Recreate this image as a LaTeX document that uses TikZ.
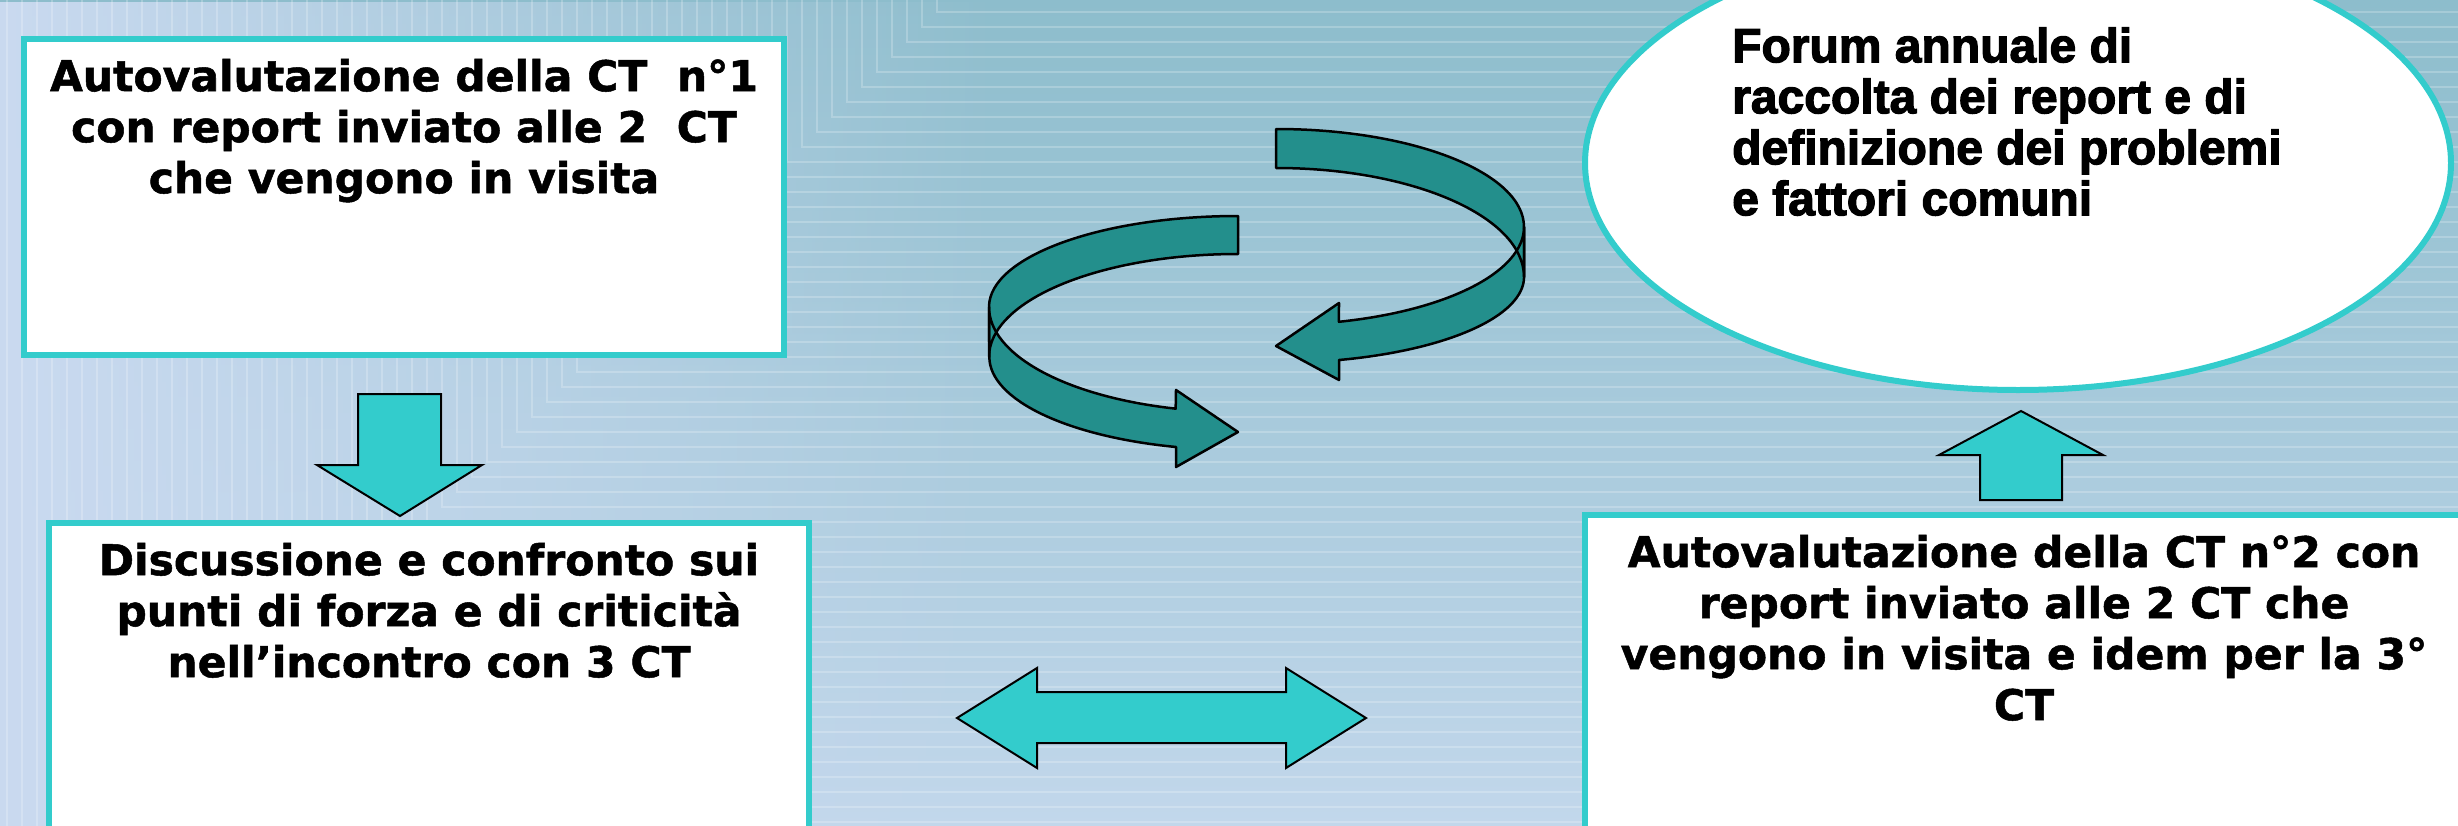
\documentclass[tikz,border=0pt]{standalone}
\usepackage{fontspec}
\usetikzlibrary{shapes.geometric,fadings}
\newfontfamily\boxfont{DejaVu Sans}[BoldFeatures={FakeBold=1.2}]
\newfontfamily\forumfont{Liberation Sans}[BoldFeatures={FakeBold=2.5}]
\definecolor{cyanb}{HTML}{33CCCC}
\definecolor{ribbon}{HTML}{238F8C}
\definecolor{bgtop}{HTML}{8DBDCC}
\definecolor{bgbot}{HTML}{C2D7EB}
\definecolor{bgleft}{HTML}{CADAF0}
\tikzfading[name=fadeR, left color=transparent!0, right color=transparent!100]
\newcommand\firstln{\rule{0pt}{40pt}}
\begin{document}
\begin{tikzpicture}[x=1pt,y=-1pt,
  card/.style={draw=cyanb, line width=6pt, fill=white, rectangle, inner sep=0pt},
  boxtext/.style={anchor=north, inner sep=0pt, align=center, font=\boxfont\bfseries\fontsize{42.5}{51}\selectfont},
  blockarrow/.style={fill=cyanb, draw=black, line width=2pt, line join=miter},
  ribbonarrow/.style={fill=ribbon, draw=black, line width=2.5pt, line join=round},
  bgline/.style={draw=white, draw opacity=0.22, line width=1.5pt}]
\useasboundingbox (0,0) rectangle (2458,825);
\clip (0,0) rectangle (2458,825);
% background
\shade[top color=bgtop, bottom color=bgbot] (0,0) rectangle (2458,825);
\fill[bgleft, path fading=fadeR] (0,0) rectangle (1000,825);
\foreach \k in {0,...,63}{
  \pgfmathsetmacro\xk{7+15*\k}
  \pgfmathsetmacro\yk{942-15*\k}
  \draw[bgline] (\xk,0) -- (\xk,\yk) -- (2458,\yk);
}
% boxes
\node[card, minimum width=760pt, minimum height=316pt] (b1) at (404,197) {};
\node[boxtext] (t1) at (404,51) {\firstln Autovalutazione della CT~~n°1\\con report inviato alle 2~~CT\\che vengono in visita};
\node[card, minimum width=760pt, minimum height=377pt] (b2) at (429,711.5) {};
\node[boxtext] (t2) at (429,535) {\firstln Discussione e confronto sui\\punti di forza e di criticità\\nell’incontro con 3 CT};
\node[card, minimum width=879pt, minimum height=385pt] (b3) at (2024.5,707.5) {};
\node[boxtext] (t3) at (2024,527) {\firstln Autovalutazione della CT n°2 con\\report inviato alle 2 CT che\\vengono in visita e idem per la 3°\\CT};
\node[draw=cyanb, line width=6pt, fill=white, ellipse, minimum width=866pt, minimum height=454pt, inner sep=0pt] (forum) at (2018,163) {};
\node[anchor=north west, inner sep=0pt, align=left, font=\forumfont\bfseries\fontsize{48}{51}\selectfont] (ft) at (1732,22) {\firstln Forum annuale di\\raccolta dei report e di\\definizione dei problemi\\e fattori comuni};
% block arrows
\draw[blockarrow] (358,394) -- (441,394) -- (441,465) -- (482,465) -- (400,516) -- (317,465) -- (358,465) -- cycle;
\draw[blockarrow] (1980,500) -- (2062,500) -- (2062,455) -- (2103,455) -- (2021,411) -- (1939,455) -- (1980,455) -- cycle;
\draw[blockarrow] (957,718) -- (1037,668) -- (1037,692) -- (1286,692) -- (1286,668) -- (1366,718) -- (1286,768) -- (1286,743) -- (1037,743) -- (1037,768) -- cycle;
% ribbon arrow A (upper right)
\fill[ribbon] (1276,129) arc[start angle=90,end angle=0,x radius=248pt,y radius=98pt] -- (1524,277) arc[start angle=0,end angle=90,x radius=248pt,y radius=109pt] -- cycle;
\fill[ribbon] (1524,227) arc[start angle=0,end angle=-75.3,x radius=248pt,y radius=98pt] -- (1339,303) -- (1276,346) -- (1339,380) -- (1339,360) arc[start angle=-75.3,end angle=0,x radius=248pt,y radius=86pt] -- cycle;
\draw[ribbonarrow, fill=none] (1276,129) arc[start angle=90,end angle=0,x radius=248pt,y radius=98pt] -- (1524,277) arc[start angle=0,end angle=90,x radius=248pt,y radius=109pt] -- cycle;
\draw[ribbonarrow, fill=none] (1524,227) arc[start angle=0,end angle=-75.3,x radius=248pt,y radius=98pt] -- (1339,303) -- (1276,346) -- (1339,380) -- (1339,360) arc[start angle=-75.3,end angle=0,x radius=248pt,y radius=86pt] -- cycle;
% ribbon arrow B (lower left)
\fill[ribbon] (1238,216) arc[start angle=90,end angle=180,x radius=249pt,y radius=91pt] -- (989,357) arc[start angle=180,end angle=90,x radius=249pt,y radius=103pt] -- cycle;
\fill[ribbon] (989,307) arc[start angle=180,end angle=255.5,x radius=249pt,y radius=105pt] -- (1176,390) -- (1238,432) -- (1176,467) -- (1176,447) arc[start angle=255.5,end angle=180,x radius=249pt,y radius=93pt] -- cycle;
\draw[ribbonarrow, fill=none] (1238,216) arc[start angle=90,end angle=180,x radius=249pt,y radius=91pt] -- (989,357) arc[start angle=180,end angle=90,x radius=249pt,y radius=103pt] -- cycle;
\draw[ribbonarrow, fill=none] (989,307) arc[start angle=180,end angle=255.5,x radius=249pt,y radius=105pt] -- (1176,390) -- (1238,432) -- (1176,467) -- (1176,447) arc[start angle=255.5,end angle=180,x radius=249pt,y radius=93pt] -- cycle;
\end{tikzpicture}
\end{document}
